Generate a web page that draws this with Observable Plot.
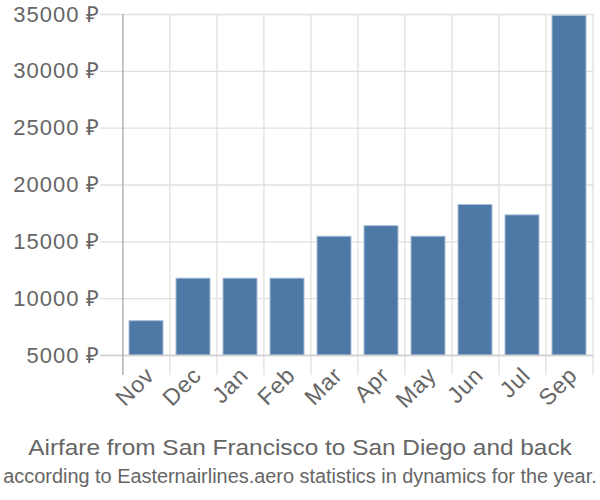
<!DOCTYPE html>
<html><head><meta charset="utf-8">
<script src="https://cdn.jsdelivr.net/npm/d3@7"></script>
<script src="https://cdn.jsdelivr.net/npm/@observablehq/plot@0.6"></script>
<style>body{margin:0;background:#fff;font-family:"Liberation Sans",Arial,sans-serif}#chart svg{display:block}</style>
</head><body><div id="chart"></div>
<script>
const months = ["Nov","Dec","Jan","Feb","Mar","Apr","May","Jun","Jul","Sep"];
const prices = [8020, 11760, 11760, 11760, 15450, 16380, 15450, 18240, 17330, 34880];
const yTicks = [5000, 10000, 15000, 20000, 25000, 30000, 35000];
const currency = "₽";
const title = "Airfare from San Francisco to San Diego and back";
const subtitle = "according to Easternairlines.aero statistics in dynamics for the year.";

const data = months.map((m, i) => ({month: m, price: prices[i]}));
const W = 600, H = 420, ml = 122, mr = 6;
const step = (W - ml - mr) / months.length;
const grid = "#e0e0e0";
const textColor = "#666";

const plot = Plot.plot({
  width: W, height: H,
  marginTop: 14, marginBottom: H - 355, marginLeft: ml, marginRight: mr,
  style: {fontFamily: "Liberation Sans, Arial, sans-serif", fontSize: "22px", color: textColor, background: "white"},
  x: {domain: months, paddingInner: 0.27, paddingOuter: 0.135, align: 0.5},
  y: {domain: [yTicks[0], yTicks[yTicks.length - 1]]},
  marks: [
    Plot.gridY(yTicks, {stroke: grid, strokeOpacity: 1, strokeWidth: 1.3, insetLeft: -22}),
    Plot.ruleX(months.slice(1), {x: d => d, dx: -step / 2, stroke: grid, strokeOpacity: 1, strokeWidth: 1.3, insetBottom: -20}),
    Plot.ruleX(months.slice(-1), {x: d => d, dx: step / 2, stroke: grid, strokeOpacity: 1, strokeWidth: 1.3, insetBottom: -20}),
    Plot.barY(data, {x: "month", y1: yTicks[0], y2: "price", fill: "#4e79a7", stroke: "#a9bfd8", strokeWidth: 1}),
    Plot.ruleY(yTicks.slice(0, 1), {stroke: "#d0d0d0", strokeWidth: 1.3, insetLeft: -22}),
    Plot.ruleX(months.slice(0, 1), {x: d => d, dx: -step / 2, stroke: "#a8a8a8", strokeWidth: 1.3, insetBottom: -20}),
    Plot.axisY(yTicks, {tickSize: 0, tickPadding: 22, tickFormat: d => d + " " + currency, fontSize: 22, fill: textColor, label: null}),
    Plot.axisX({tickSize: 0, tickRotate: -45, tickPadding: 16, dx: 4, fontSize: 23, fill: textColor, label: null})
  ]
});
d3.select(plot).selectAll("g[aria-label='y-axis tick label'] text")
  .style("font-size", "22px").style("letter-spacing", "1px");
d3.select(plot).selectAll("g[aria-label='x-axis tick label'] text")
  .style("font-size", "23px").style("letter-spacing", "0.8px");
document.getElementById("chart").appendChild(plot);

const svg = d3.select("#chart").append("svg").attr("width", W).attr("height", 500 - H)
  .style("font-family", "Liberation Sans, Arial, sans-serif");
function fitted(y, size, width, str) {
  const g = svg.append("g").attr("transform", `translate(${W / 2},${y})`);
  const t = g.append("text").attr("text-anchor", "middle").attr("font-size", size)
    .attr("fill", textColor).text(str);
  const natural = t.node().getComputedTextLength();
  g.attr("transform", `translate(${W / 2},${y}) scale(${width / natural},1)`);
}
fitted(35, 22, 544, title);
fitted(63, 21, 594, subtitle);
</script></body></html>
